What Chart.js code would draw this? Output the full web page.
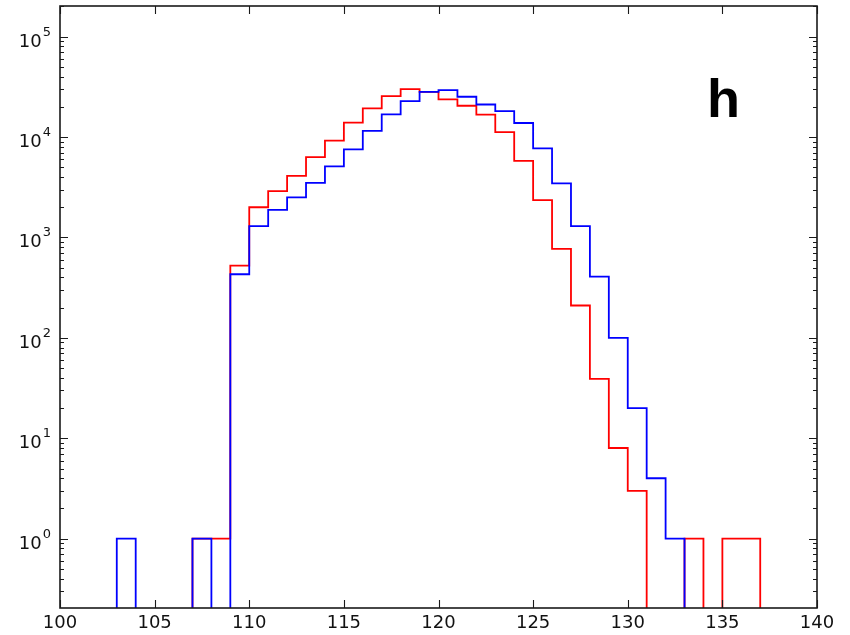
<!DOCTYPE html>
<html>
<head>
<meta charset="utf-8">
<script src="https://cdn.jsdelivr.net/npm/chart.js@4.4.1/dist/chart.umd.min.js"></script>
<style>
  html, body { margin: 0; padding: 0; background: #fff; }
  #wrap { width: 850px; height: 635px; }
</style>
</head>
<body>
<div id="wrap"><canvas id="c" width="850" height="635"></canvas></div>
<script>
// ---- data (histogram, bin width 1, bins start at these values) ----
const binStarts = [103,104,105,106,107,108,109,110,111,112,113,114,115,116,117,118,119,
                   120,121,122,123,124,125,126,127,128,129,130,131,132,133,134,135,136];
const binWidth = 1;
const redCounts = [0,0,0,0,1,1,525,2000,2900,4100,6300,9200,13900,19300,25600,30000,28200,
                   23700,20500,16700,11200,5800,2360,770,210,39,8,3,0,0,1,0,1,1];
const blueCounts = [1,0,0,0,1,0,430,1300,1880,2510,3500,5100,7550,11500,16800,22800,28200,
                    29400,25200,21100,18100,13800,7700,3460,1300,407,100,20,4,1,0,0,0,0];
const xTicks = [100,105,110,115,120,125,130,135,140];
const yTicks = [1,10,100,1000,10000,100000];
const panelLabel = 'h';

const FLOOR = 0.01; // empty bins drop below the visible axis (clipped)

function stepPoints(counts) {
  const pts = [{x: binStarts[0], y: FLOOR}];
  counts.forEach((c, i) => pts.push({x: binStarts[i], y: c > 0 ? c : FLOOR}));
  pts.push({x: binStarts[binStarts.length - 1] + binWidth, y: FLOOR});
  return pts;
}

const frameTicks = {
  id: 'frameTicks',
  afterDatasetsDraw(chart) {
    const {ctx, chartArea: a, scales: {x, y}} = chart;
    ctx.save();
    ctx.strokeStyle = '#1a1a1a';
    ctx.lineWidth = 1.6;
    ctx.strokeRect(a.left, a.top, a.right - a.left, a.bottom - a.top);
    ctx.lineWidth = 1.1;
    ctx.beginPath();
    xTicks.forEach(v => {
      const px = Math.round(x.getPixelForValue(v)) + 0.5;
      ctx.moveTo(px, a.bottom); ctx.lineTo(px, a.bottom - 8);
      ctx.moveTo(px, a.top); ctx.lineTo(px, a.top + 8);
    });
    for (let d = -1; d <= 5; d++) {
      for (let m = 1; m <= 9; m++) {
        const v = m * Math.pow(10, d);
        if (v < y.min || v > y.max) continue;
        const py = Math.round(y.getPixelForValue(v)) + 0.5;
        const len = m === 1 ? 8 : 4;
        ctx.moveTo(a.left, py); ctx.lineTo(a.left + len, py);
        ctx.moveTo(a.right, py); ctx.lineTo(a.right - len, py);
      }
    }
    ctx.stroke();
    // y tick labels: 10 with superscript exponent
    ctx.fillStyle = '#111';
    ctx.textBaseline = 'alphabetic';
    ctx.textAlign = 'right';
    yTicks.forEach(v => {
      const py = y.getPixelForValue(v);
      const exp = String(Math.round(Math.log10(v)));
      ctx.font = '13px "DejaVu Sans"';
      const ew = ctx.measureText(exp).width;
      ctx.fillText(exp, 51, py - 1);
      ctx.font = '18px "DejaVu Sans"';
      ctx.fillText('10', 51 - ew - 1, py + 10);
    });
    // panel label
    ctx.fillStyle = '#000';
    ctx.font = 'bold 54px "Liberation Sans", Arial, sans-serif';
    ctx.textAlign = 'left';
    ctx.fillText(panelLabel, 707, 117);
    ctx.restore();
  }
};

new Chart(document.getElementById('c'), {
  type: 'line',
  data: {
    datasets: [
      { label: 'blue', data: stepPoints(blueCounts), borderColor: '#0000ff',
        borderWidth: 1.8, stepped: 'before', pointRadius: 0, fill: false },
      { label: 'red', data: stepPoints(redCounts), borderColor: '#ff0000',
        borderWidth: 1.8, stepped: 'before', pointRadius: 0, fill: false }
    ]
  },
  options: {
    responsive: false,
    animation: false,
    events: [],
    layout: { padding: { top: 6, right: 33, left: 0, bottom: 0 } },
    plugins: { legend: { display: false }, tooltip: { enabled: false } },
    scales: {
      x: {
        type: 'linear', min: 100, max: 140,
        border: { display: false },
        grid: { display: false, drawTicks: false },
        afterBuildTicks(s) { s.ticks = xTicks.map(v => ({value: v})); },
        afterFit(s) { s.height = 27; s.paddingLeft = 0; s.paddingRight = 0; },
        ticks: {
          padding: 5, color: '#111',
          font: { family: '"DejaVu Sans"', size: 18 },
          maxRotation: 0, autoSkip: false,
          callback: v => String(v)
        }
      },
      y: {
        type: 'logarithmic', min: 0.204, max: 202000,
        border: { display: false },
        grid: { display: false, drawTicks: false },
        afterBuildTicks(s) { s.ticks = yTicks.map(v => ({value: v})); },
        afterFit(s) { s.width = 60; s.paddingTop = 0; s.paddingBottom = 0; },
        ticks: { display: false }
      }
    }
  },
  plugins: [frameTicks]
});
</script>
</body>
</html>
